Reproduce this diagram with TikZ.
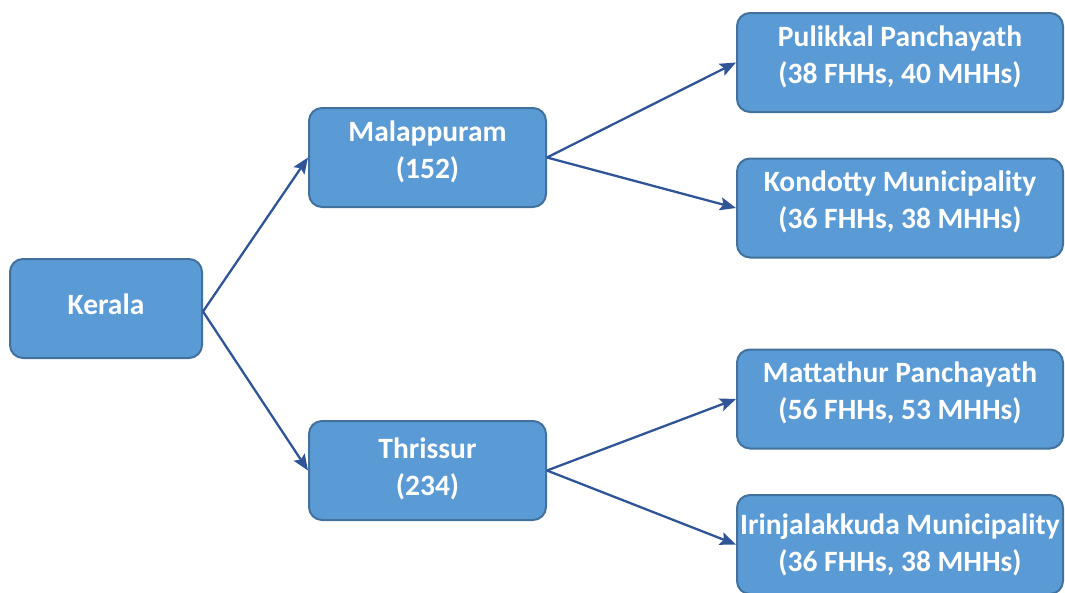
\documentclass[tikz,border=0pt]{standalone}
\usepackage{fontspec}
\setmainfont{Carlito}
\usetikzlibrary{arrows.meta}
\definecolor{boxfill}{HTML}{5B9BD5}
\definecolor{boxline}{HTML}{41719C}
\definecolor{arrowcol}{HTML}{2F5597}
\begin{document}
\begin{tikzpicture}[x=1pt,y=-1pt,
  box/.style={draw=boxline, fill=boxfill, line width=2pt, rounded corners=13pt,
    minimum height=99pt, inner sep=0pt},
  lbl/.style={text=white, font=\fontsize{29.5}{37}\selectfont\bfseries,
    align=center, inner sep=0pt},
  conn/.style={draw=arrowcol, line width=2.3pt,
    -{Stealth[length=16pt,width=13pt,inset=3pt]}}]
\useasboundingbox (0,0) rectangle (1065,592);

% boxes
\node[box, minimum width=192pt] (ker) at (106,308.5) {};
\node[box, minimum width=237pt] (mal) at (427.5,157.5) {};
\node[box, minimum width=237pt] (thr) at (427.5,470.5) {};
\node[box, minimum width=326pt] (pul) at (900,62.5) {};
\node[box, minimum width=326pt] (kon) at (900,208) {};
\node[box, minimum width=326pt] (mat) at (900,399) {};
\node[box, minimum width=326pt] (iri) at (900,544.5) {};

% labels
\node[lbl] (kert) at ([yshift=4pt]ker.center) {Kerala};
\node[lbl] (malt) at ([yshift=6pt]mal.center) {Malappuram\\(152)};
\node[lbl] (thrt) at ([yshift=2pt]thr.center) {Thrissur\\(234)};
\node[lbl] (pult) at ([yshift=6pt]pul.center) {Pulikkal Panchayath\\(38 FHHs, 40 MHHs)};
\node[lbl] (kont) at ([yshift=6pt]kon.center) {Kondotty Municipality\\(36 FHHs, 38 MHHs)};
\node[lbl] (matt) at ([yshift=6pt]mat.center) {Mattathur Panchayath\\(56 FHHs, 53 MHHs)};
\node[lbl] (irit) at ([yshift=0pt]iri.center) {Irinjalakkuda Municipality\\(36 FHHs, 38 MHHs)};

% connectors
\draw[conn] ([yshift=-3pt]ker.east) -- (mal.west);
\draw[conn] ([yshift=-3pt]ker.east) -- (thr.west);
\draw[conn] (mal.east) -- (pul.west);
\draw[conn] (mal.east) -- (kon.west);
\draw[conn] (thr.east) -- (mat.west);
\draw[conn] (thr.east) -- (iri.west);
\end{tikzpicture}
\end{document}
